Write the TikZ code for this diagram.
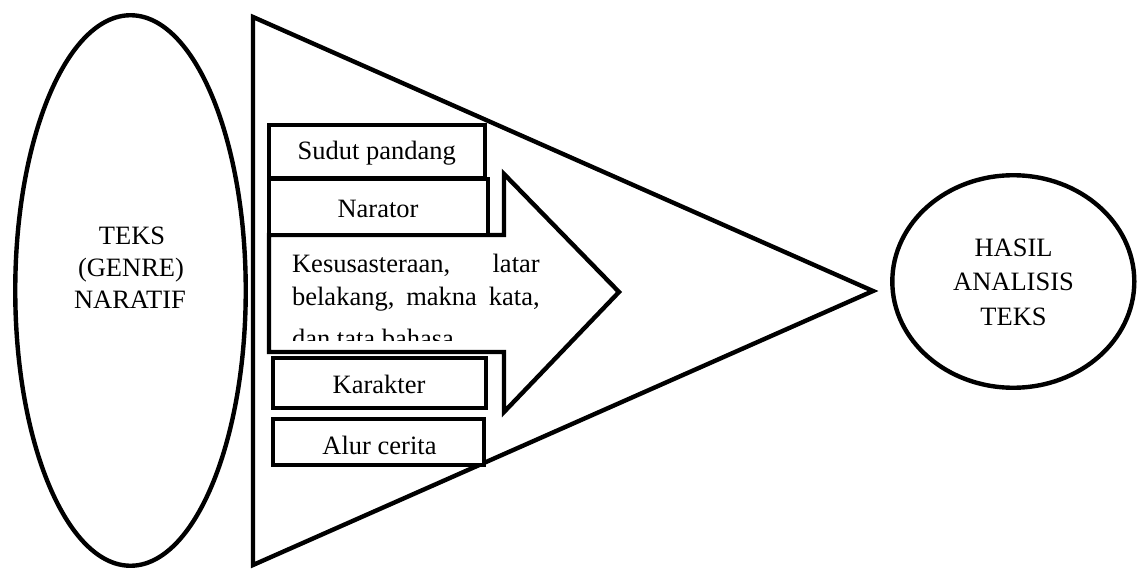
\documentclass[tikz,border=0pt]{standalone}
\usepackage{fontspec}
\setmainfont{Liberation Serif}
\usetikzlibrary{shapes.geometric}
\begin{document}
\begin{tikzpicture}[x=0.5pt,y=-0.5pt,
  shapeline/.style={draw, line width=2.2pt},
  boxnode/.style={draw, fill=white, line width=2pt, rectangle, inner sep=0pt},
  ovalnode/.style={draw, ellipse, line width=2.2pt, inner sep=0pt},
  lbl/.style={anchor=base, inner sep=0pt, font=\fontsize{13.25pt}{16pt}\selectfont},
  lline/.style={anchor=base west, inner sep=0pt, font=\fontsize{13.25pt}{16pt}\selectfont}]
\useasboundingbox (0,0) rectangle (1138,571);

% big triangle
\coordinate (ttop) at (253,17);
\coordinate (tbot) at (253,565);
\coordinate (ttip) at (873,291);
\draw[shapeline] (ttop) -- (ttip) -- (tbot) -- cycle;

% ellipses
\node[ovalnode, minimum width=115.25pt, minimum height=275.25pt] (teks) at (130.5,290.5) {};
\node[ovalnode, minimum width=121pt, minimum height=106.25pt] (hasil) at (1013.3,281.5) {};

\node[lbl] (t1) at (132,245) {TEKS};
\node[lbl] (t2) at (131,276.7) {(GENRE)};
\node[lbl] (t3) at (130,308.3) {NARATIF};

\node[lbl] (h1) at (1013.5,256.7) {HASIL};
\node[lbl] (h2) at (1013.5,290.5) {ANALISIS};
\node[lbl] (h3) at (1013.5,325.5) {TEKS};

% block arrow
\coordinate (a1) at (269,235);
\coordinate (a2) at (504,235);
\coordinate (a3) at (504,174);
\coordinate (a4) at (619,292);
\coordinate (a5) at (504,412);
\coordinate (a6) at (504,352);
\coordinate (a7) at (269,352);
\draw[shapeline, fill=white] (a1) -- (a2) -- (a3) -- (a4) -- (a5) -- (a6) -- (a7) -- cycle;

\begin{scope}
\clip (271,237) rectangle (600,340.5);
\node[lline] (l1) at (291.7,272.3) {\hbox to 123.8pt{Kesusasteraan,\hfill latar}};
\node[lline] (l2) at (291.7,306) {\hbox to 123.8pt{belakang,\hfill makna\hfill kata,}};
\node[lline] (l3) at (291.7,347) {dan tata bahasa};
\end{scope}

% boxes
\node[boxnode, minimum width=108pt, minimum height=26.65pt] (sudut) at (376.7,151.35) {};
\node[lbl] (sudutt) at (376.7,160) {Sudut pandang};
\node[boxnode, minimum width=109.5pt, minimum height=27.85pt] (narator) at (378.5,206.85) {};
\node[lbl] (naratort) at (378,217.3) {Narator};
\node[boxnode, minimum width=106.65pt, minimum height=25pt] (karakter) at (379.35,383) {};
\node[lbl] (karaktert) at (379,393.3) {Karakter};
\node[boxnode, minimum width=105.65pt, minimum height=23pt] (alur) at (378.35,441.7) {};
\node[lbl] (alurt) at (379.5,454) {Alur cerita};
\end{tikzpicture}
\end{document}
